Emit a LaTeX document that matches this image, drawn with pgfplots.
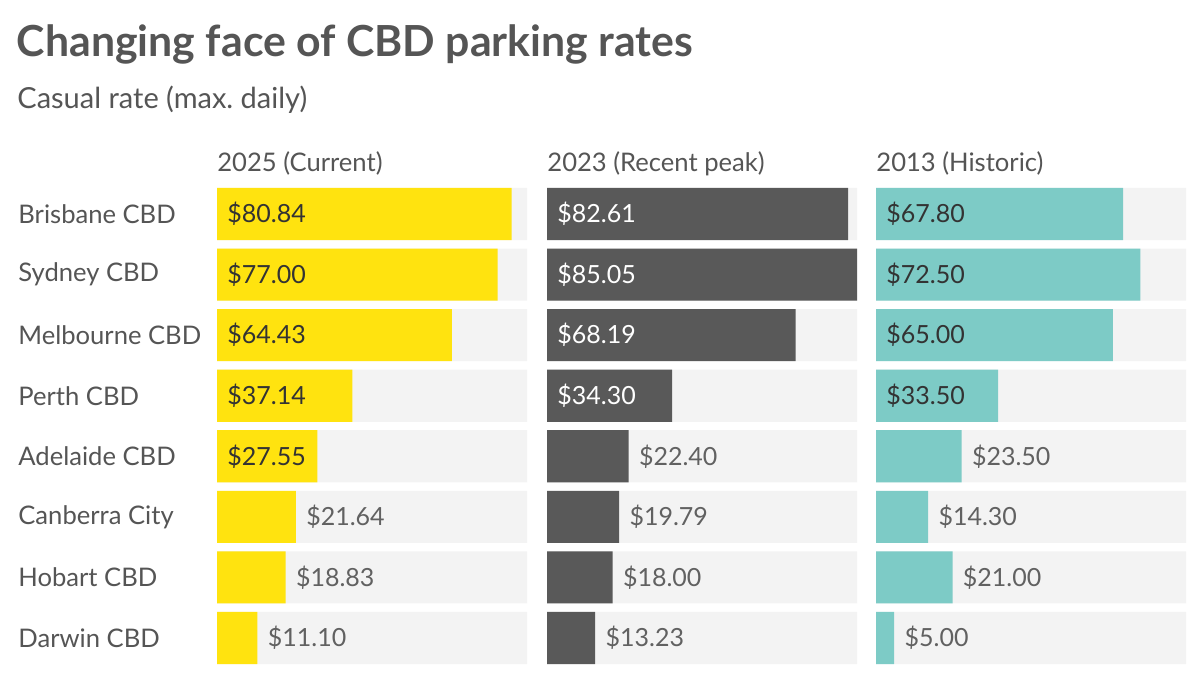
\documentclass[border=0pt]{standalone}
\usepackage{pgfplots}
\pgfplotsset{compat=1.18}
\usepackage{fontspec}
\setmainfont{Lato}
\frenchspacing

\definecolor{cyellow}{HTML}{FFE30F}
\definecolor{cdark}{HTML}{595959}
\definecolor{cteal}{HTML}{7DCBC6}
\definecolor{cback}{HTML}{F3F3F3}
\definecolor{txtdark}{HTML}{333333}
\definecolor{txtgray}{HTML}{555555}
\definecolor{txtout}{HTML}{616161}

\newcommand{\lbl}{\fontsize{12.5}{15}\selectfont}
\newcommand{\cat}{\fontsize{12.8}{15}\selectfont}

\pgfplotsset{
  panel/.style={
    scale only axis, width=155pt, height=242.3pt,
    xmin=0, xmax=85.05, ymin=-0.5, ymax=7.5, y dir=reverse,
    axis lines=none, ticks=none, clip=false, anchor=north west,
    title style={at={(0,1)}, anchor=base west, yshift=-0.1pt, inner sep=0pt,
      font=\cat, text=txtgray},
  },
  bars/.style={xbar, bar width=0.86, bar shift=0pt, draw=none, fill=#1},
  vals/.style={xbar, bar width=0.86, bar shift=0pt, draw=none, fill=none,
    nodes near coords, point meta=explicit symbolic,
    nodes near coords style={anchor=west, inner sep=0pt, xshift=5pt,
      font=\lbl, text=#1}},
}

\begin{document}
\begin{tikzpicture}
\useasboundingbox (0,0) rectangle (600pt,339.5pt);

\node[anchor=base west, inner sep=0pt, text=txtgray,
  font=\bfseries\fontsize{21.4}{25}\selectfont] at (8.3pt,311pt)
  {Changing face of CBD parking rates};
\node[anchor=base west, inner sep=0pt, text=txtgray,
  font=\fontsize{14.5}{17}\selectfont]
  at (8.5pt,285pt) {Casual rate (max. daily)};

% 2025
\begin{axis}[panel, at={(108.5pt,247.65pt)}, title={2025 (Current)}]
  \addplot[bars=cback] coordinates {(85.05,0) (85.05,1) (85.05,2) (85.05,3)
    (85.05,4) (85.05,5) (85.05,6) (85.05,7)};
  \addplot[bars=cyellow] coordinates {(80.84,0) (77.00,1) (64.43,2) (37.14,3)
    (27.55,4) (21.64,5) (18.83,6) (11.10,7)};
  \addplot[vals=txtdark] coordinates {(0,0) [\$80.84] (0,1) [\$77.00]
    (0,2) [\$64.43] (0,3) [\$37.14] (0,4) [\$27.55]};
  \addplot[vals=txtout] coordinates {(21.64,5) [\$21.64] (18.83,6) [\$18.83]
    (11.10,7) [\$11.10]};
  % category names
  \addplot[vals=txtgray, nodes near coords style={xshift=-104.5pt, font=\cat}]
    coordinates {(0,0) [Brisbane CBD] (0,1) [Sydney CBD] (0,2) [Melbourne CBD]
    (0,3) [Perth CBD] (0,4) [Adelaide CBD] (0,5) [Canberra City]
    (0,6) [Hobart CBD] (0,7) [Darwin CBD]};
\end{axis}

% 2023
\begin{axis}[panel, at={(273.5pt,247.65pt)}, title={2023 (Recent peak)}]
  \addplot[bars=cback] coordinates {(85.05,0) (85.05,1) (85.05,2) (85.05,3)
    (85.05,4) (85.05,5) (85.05,6) (85.05,7)};
  \addplot[bars=cdark] coordinates {(82.61,0) (85.05,1) (68.19,2) (34.30,3)
    (22.40,4) (19.79,5) (18.00,6) (13.23,7)};
  \addplot[vals=white] coordinates {(0,0) [\$82.61] (0,1) [\$85.05]
    (0,2) [\$68.19] (0,3) [\$34.30]};
  \addplot[vals=txtout] coordinates {(22.40,4) [\$22.40] (19.79,5) [\$19.79]
    (18.00,6) [\$18.00] (13.23,7) [\$13.23]};
\end{axis}

% 2013
\begin{axis}[panel, at={(438pt,247.65pt)}, title={2013 (Historic)}]
  \addplot[bars=cback] coordinates {(85.05,0) (85.05,1) (85.05,2) (85.05,3)
    (85.05,4) (85.05,5) (85.05,6) (85.05,7)};
  \addplot[bars=cteal] coordinates {(67.80,0) (72.50,1) (65.00,2) (33.50,3)
    (23.50,4) (14.30,5) (21.00,6) (5.00,7)};
  \addplot[vals=txtdark] coordinates {(0,0) [\$67.80] (0,1) [\$72.50]
    (0,2) [\$65.00] (0,3) [\$33.50]};
  \addplot[vals=txtout] coordinates {(23.50,4) [\$23.50] (14.30,5) [\$14.30]
    (21.00,6) [\$21.00] (5.00,7) [\$5.00]};
\end{axis}
\end{tikzpicture}
\end{document}
